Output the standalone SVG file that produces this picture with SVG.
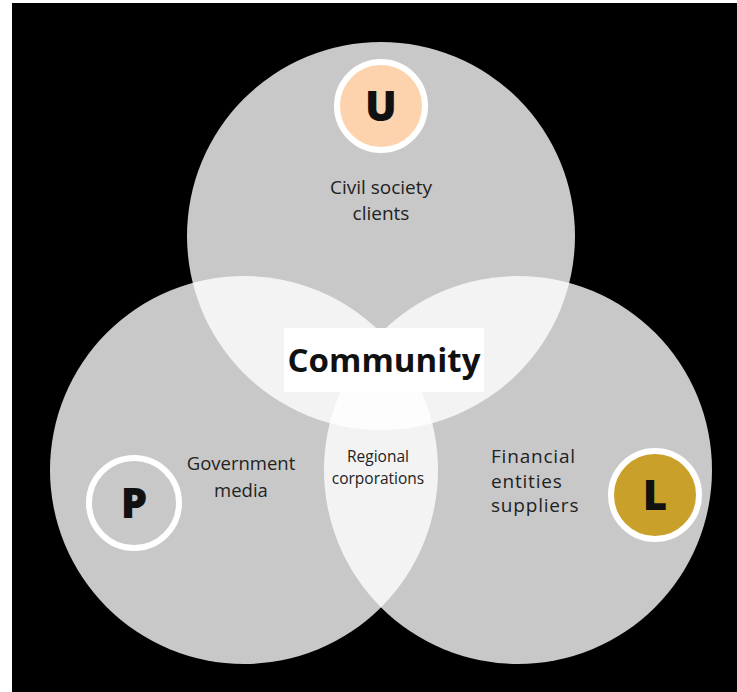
<svg xmlns="http://www.w3.org/2000/svg" width="737" height="692" viewBox="0 0 737 692">
<style>
.big{fill:#ffffff;fill-opacity:0.784}
.t{font-family:"Open Sans","DejaVu Sans",sans-serif;fill:#222222;text-anchor:middle}
.ts{font-family:"Open Sans","DejaVu Sans",sans-serif;fill:#222222;text-anchor:start}
.badge{stroke:#ffffff;stroke-width:6}
.letter{font-family:"Open Sans","DejaVu Sans",sans-serif;font-weight:800;font-size:42px;fill:#111111;text-anchor:middle}
</style>
<rect x="0" y="0" width="737" height="692" fill="#ffffff"/>
<rect x="12" y="3" width="725" height="689" fill="#000000"/>
<g id="circle-top"><circle class="big" cx="381" cy="236" r="194"/></g>
<g id="circle-left"><circle class="big" cx="244" cy="470" r="194"/></g>
<g id="circle-right"><circle class="big" cx="518" cy="470" r="194"/></g>
<g id="connectors"></g>
<g id="community">
<rect x="284" y="328" width="200" height="64" fill="#ffffff"/>
<text x="384" y="372" font-family="'Open Sans','DejaVu Sans',sans-serif" font-weight="bold" font-size="33" fill="#111111" text-anchor="middle">Community</text>
</g>
<g id="node-u">
<circle class="badge" cx="381" cy="106" r="44" fill="#fcd3ad"/>
<text class="letter" x="381" y="121">U</text>
<text class="t" x="381" y="194" font-size="19">Civil society</text>
<text class="t" x="381" y="220" font-size="19">clients</text>
</g>
<g id="node-p">
<circle class="badge" cx="134" cy="503" r="45" fill="#c8c8c8"/>
<text class="letter" x="134" y="518">P</text>
<text class="t" x="241" y="470" font-size="18.5">Government</text>
<text class="t" x="241" y="497" font-size="18.5">media</text>
</g>
<g id="node-l">
<circle class="badge" cx="655" cy="495" r="44" fill="#c9a02a"/>
<text class="letter" x="655" y="510">L</text>
<text class="ts" x="491" y="463" font-size="19" letter-spacing="0.8">Financial</text>
<text class="ts" x="491" y="488" font-size="19" letter-spacing="0.8">entities</text>
<text class="ts" x="491" y="512" font-size="19" letter-spacing="0.8">suppliers</text>
</g>
<g id="regional">
<text class="t" x="378" y="462" font-size="15.5">Regional</text>
<text class="t" x="378" y="484" font-size="15.5">corporations</text>
</g>
</svg>
